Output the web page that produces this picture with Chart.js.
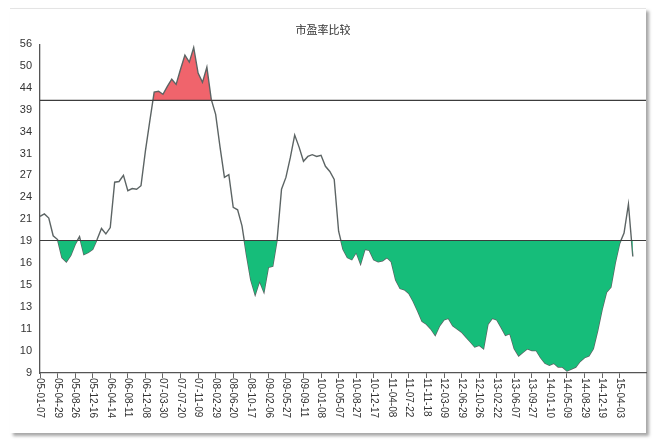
<!DOCTYPE html>
<html>
<head>
<meta charset="utf-8">
<title>市盈率比较</title>
<script src="https://cdn.jsdelivr.net/npm/chart.js@4.4.0/dist/chart.umd.min.js"></script>
<style>
    html, body { margin: 0; padding: 0; background: #fff; }
    #card {
        position: absolute; left: 10px; top: 8px; width: 636px; height: 424px;
        background: #fff; border-top: 1px solid #e4e4e4;
        box-shadow: 3px 3px 3px rgba(0, 0, 0, 0.35);
    }
    #wrap { position: absolute; left: 0; top: 0; width: 656px; height: 447px; }
</style>
</head>
<body>
<div id="card"></div>
<div id="wrap"><canvas id="pe-chart"></canvas></div>
<script>
// Date labels on the x axis, one every 16 weeks
const dateLabels = [
    '05-01-07', '05-04-29', '05-08-26', '05-12-16', '06-04-14', '06-08-11', '06-12-08',
    '07-03-30', '07-07-20', '07-11-09', '08-02-29', '08-06-20', '08-10-17', '09-02-06',
    '09-05-27', '09-09-11', '10-01-08', '10-05-07', '10-08-27', '10-12-17', '11-04-08',
    '11-07-22', '11-11-18', '12-03-09', '12-06-29', '12-10-26', '13-02-22', '13-06-07',
    '13-09-27', '14-01-10', '14-05-09', '14-08-29', '14-12-19', '15-04-03'
];
const weeksPerLabel = 16;
const weeksPerPoint = 4;

// P/E values, one every 4 weeks
const peValues = [
    21.5, 21.8, 21.3, 19.3, 18.9, 17.1, 16.7, 17.3, 18.4, 19.2,
    17.4, 17.6, 17.9, 18.9, 20.1, 19.5, 20.2, 26.0, 26.1, 27.0,
    24.8, 25.1, 25.0, 25.5, 30.9, 36.5, 42.9, 43.1, 42.4, 44.3,
    46.1, 44.8, 48.7, 52.7, 50.7, 55.0, 47.7, 45.3, 49.3, 41.2,
    37.9, 31.6, 26.7, 27.1, 22.6, 22.3, 20.4, 17.4, 15.1, 13.9,
    15.0, 14.1, 16.2, 16.3, 18.9, 25.0, 26.7, 29.8, 33.8, 31.6,
    29.2, 30.0, 30.3, 30.0, 30.2, 28.4, 27.6, 26.4, 19.8, 17.9,
    17.1, 16.9, 17.6, 16.5, 17.9, 17.8, 16.9, 16.7, 16.8, 17.1,
    16.7, 15.1, 14.4, 14.3, 14.0, 13.4, 12.7, 12.0, 11.8, 11.5,
    11.1, 11.7, 12.1, 12.2, 11.7, 11.5, 11.3, 11.0, 10.7, 10.4,
    10.5, 10.3, 11.8, 12.2, 12.1, 11.6, 11.1, 11.2, 10.3, 9.9,
    10.1, 10.3, 10.2, 10.2, 9.8, 9.5, 9.4, 9.5, 9.3, 9.3,
    9.1, 9.2, 9.3, 9.6, 9.8, 9.9, 10.3, 11.4, 12.8, 14.1,
    14.5, 16.6, 18.5, 19.6, 23.0, 17.2
];

// y axis (log spaced) tick positions and the labels shown for them
const yTickValues = [9, 10.2, 11.5, 13, 14.7, 16.6, 18.8, 21.2, 23.9, 27, 30.5, 34.4, 38.9, 43.9, 49.6, 56];
const yTickLabels = ['9', '10', '11', '13', '15', '16', '19', '21', '24', '27', '31', '34', '39', '44', '50', '56'];

const highLine = 41;
const lowLine = 18.8;
const xMax = 552;

const points = peValues.map((v, i) => ({ x: i * weeksPerPoint, y: v }));

// Draw date labels rotated clockwise (reading downwards)
const rotatedDateLabels = {
    id: 'rotatedDateLabels',
    afterDraw(chart) {
        const xs = chart.scales.x;
        const ctx = chart.ctx;
        ctx.save();
        ctx.font = '10px "Liberation Sans", Arial, sans-serif';
        ctx.fillStyle = '#333';
        ctx.textAlign = 'left';
        ctx.textBaseline = 'middle';
        xs.ticks.forEach((t, i) => {
            const x = xs.getPixelForValue(t.value);
            ctx.save();
            ctx.translate(x, xs.top + 5);
            ctx.rotate(Math.PI / 2);
            ctx.fillText(dateLabels[i], 0, 0);
            ctx.restore();
        });
        ctx.restore();
    }
};

const ctx = document.getElementById('pe-chart').getContext('2d');
new Chart(ctx, {
    type: 'line',
    data: {
        datasets: [
            {
                label: 'PE',
                data: points,
                borderColor: '#5c6464',
                borderWidth: 1.4,
                pointRadius: 0,
                tension: 0,
                fill: { target: { value: highLine }, above: '#f0646c', below: 'rgba(0,0,0,0)' },
                order: 2
            },
            {
                label: 'low fill',
                data: points,
                borderWidth: 0,
                borderColor: 'rgba(0,0,0,0)',
                pointRadius: 0,
                tension: 0,
                fill: { target: { value: lowLine }, above: 'rgba(0,0,0,0)', below: '#16bd7a' },
                order: 1
            },
            {
                label: 'high',
                data: [{ x: 0, y: highLine }, { x: xMax, y: highLine }],
                borderColor: '#3c3c3c',
                borderWidth: 1.2,
                pointRadius: 0,
                fill: false,
                order: 0
            },
            {
                label: 'low',
                data: [{ x: 0, y: lowLine }, { x: xMax, y: lowLine }],
                borderColor: '#3c3c3c',
                borderWidth: 1.2,
                pointRadius: 0,
                fill: false,
                order: 0
            }
        ]
    },
    options: {
        responsive: true,
        maintainAspectRatio: false,
        animation: false,
        layout: { padding: { left: 0, right: 10, top: 0, bottom: 0 } },
        plugins: {
            legend: { display: false },
            tooltip: { enabled: false },
            title: {
                display: true,
                text: '市盈率比较',
                color: '#333',
                font: { family: '"Noto Sans CJK SC", sans-serif', size: 11, weight: 'normal' },
                padding: { top: 23, bottom: 8 }
            }
        },
        scales: {
            x: {
                type: 'linear',
                min: 0,
                max: xMax,
                afterBuildTicks: scale => {
                    scale.ticks = dateLabels.map((d, i) => ({ value: i * weeksPerLabel }));
                },
                afterFit: scale => { scale.height = 74; },
                ticks: {
                    autoSkip: false,
                    minRotation: 90,
                    maxRotation: 90,
                    color: 'rgba(0,0,0,0)',
                    callback: (value, index) => dateLabels[index]
                },
                grid: { drawOnChartArea: false, drawTicks: true, tickLength: 5, color: '#666' },
                border: { color: '#555', width: 1.3 }
            },
            y: {
                type: 'logarithmic',
                min: 9,
                max: 56,
                afterBuildTicks: scale => {
                    scale.ticks = yTickValues.map(v => ({ value: v }));
                },
                afterFit: scale => { scale.width = 40; },
                ticks: {
                    autoSkip: false,
                    padding: 8,
                    color: '#333',
                    font: { family: '"Liberation Sans", Arial, sans-serif', size: 11 },
                    callback: (value, index) => yTickLabels[index]
                },
                grid: { drawOnChartArea: false, drawTicks: false },
                border: { color: '#555', width: 1.3 }
            }
        }
    },
    plugins: [rotatedDateLabels]
});
</script>
</body>
</html>
